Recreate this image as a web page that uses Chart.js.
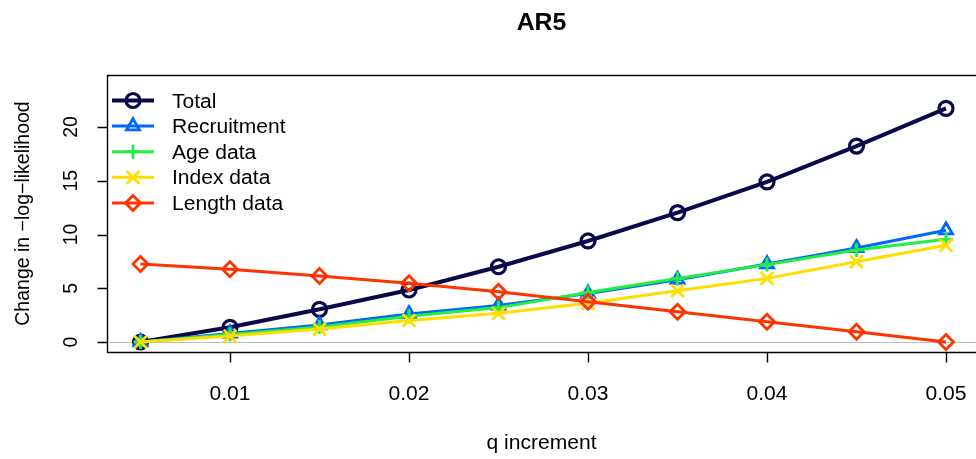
<!DOCTYPE html>
<html><head><meta charset="utf-8">
<script src="https://cdn.jsdelivr.net/npm/chart.js@4/dist/chart.umd.min.js"></script>
<style>html,body{margin:0;padding:0;background:#fff;overflow:hidden}canvas{display:block}</style>
</head><body>
<canvas id="c" width="976" height="459"></canvas>
<script>
// ---- data ----
const qIncrement  = [0.005, 0.01, 0.015, 0.02, 0.025, 0.03, 0.035, 0.04, 0.045, 0.05];
const total       = [0, 1.37, 3.04, 4.84, 7.0, 9.4, 12.03, 14.9, 18.23, 21.74];
const recruitment = [0, 0.8, 1.58, 2.6, 3.4, 4.5, 5.8, 7.25, 8.75, 10.4];
const ageData     = [0, 0.7, 1.4, 2.4, 3.2, 4.6, 5.9, 7.2, 8.55, 9.55];
const indexData   = [0, 0.55, 1.2, 2.0, 2.67, 3.6, 4.77, 5.92, 7.47, 9.0];
const lengthData  = [7.26, 6.76, 6.14, 5.46, 4.68, 3.75, 2.82, 1.89, 0.96, 0];

const seriesNames  = ["Total", "Recruitment", "Age data", "Index data", "Length data"];
const seriesValues = [total, recruitment, ageData, indexData, lengthData];
const seriesColors = ["#08084A", "#0066FF", "#22EE44", "#FFDD00", "#FF3300"];
const seriesMarks  = ["circle", "triangle", "cross", "crossRot", "rectRot"];

const xTicks      = [0.01, 0.02, 0.03, 0.04, 0.05];
const xTickLabels = ["0.01", "0.02", "0.03", "0.04", "0.05"];
const yTicks      = [0, 5, 10, 15, 20];
const yTickLabels = ["0", "5", "10", "15", "20"];

const chartTitle = "AR5";
const xTitle = "q increment";
const yTitle = "Change in \u2212log\u2212likelihood";

// ---- styling ----
const FONT = "'Liberation Sans', Arial, Helvetica, sans-serif";
const SX = 1.08; // horizontal stretch of the reference text
const lineWidths  = [4, 3, 3, 3, 3];
const pointRadii  = [7, 7.5, 7, 9, 7.5];
const pointBorder = [3.2, 2.8, 2.8, 2.8, 2.8];

function drawText(ctx, s, x, y, font, align, rotate) {
  ctx.save();
  ctx.font = font;
  ctx.fillStyle = "#000";
  ctx.textAlign = align || "center";
  ctx.textBaseline = "alphabetic";
  ctx.translate(x, y);
  if (rotate) ctx.rotate(-Math.PI / 2);
  else ctx.scale(SX, 1);
  ctx.fillText(s, 0, 0);
  ctx.restore();
}

function drawMark(ctx, style, x, y, r, color, lw) {
  ctx.save();
  ctx.strokeStyle = color; ctx.lineWidth = lw;
  ctx.beginPath();
  if (style === "circle") { ctx.arc(x, y, r, 0, Math.PI * 2); }
  else if (style === "triangle") {
    for (let k = 0; k < 3; k++) {
      const a = k * 2 * Math.PI / 3;
      const px = x + Math.sin(a) * r, py = y - Math.cos(a) * r;
      if (k === 0) ctx.moveTo(px, py); else ctx.lineTo(px, py);
    }
    ctx.closePath();
  } else if (style === "cross") {
    ctx.moveTo(x - r, y); ctx.lineTo(x + r, y); ctx.moveTo(x, y - r); ctx.lineTo(x, y + r);
  } else if (style === "crossRot") {
    const d = r * Math.SQRT1_2;
    ctx.moveTo(x - d, y - d); ctx.lineTo(x + d, y + d); ctx.moveTo(x - d, y + d); ctx.lineTo(x + d, y - d);
  } else if (style === "rectRot") {
    ctx.moveTo(x, y - r); ctx.lineTo(x + r, y); ctx.lineTo(x, y + r); ctx.lineTo(x - r, y); ctx.closePath();
  }
  ctx.stroke();
  ctx.restore();
}

const frame = {
  id: "rframe",
  beforeDatasetsDraw(chart) {
    const { ctx, chartArea: a, scales } = chart;
    const y0 = Math.round(scales.y.getPixelForValue(0)) + 0.5;
    ctx.save();
    ctx.strokeStyle = "#BEBEBE"; ctx.lineWidth = 1.2;
    ctx.beginPath(); ctx.moveTo(a.left, y0); ctx.lineTo(a.right, y0); ctx.stroke();
    ctx.restore();
  },
  afterDraw(chart) {
    const { ctx, chartArea: a, scales } = chart;
    const L = Math.round(a.left) + 0.5, T = Math.round(a.top) + 0.5, B = Math.round(a.bottom) + 0.5;
    const R = a.right + 2;
    ctx.save();
    ctx.strokeStyle = "#000"; ctx.lineWidth = 1.4;
    ctx.beginPath();
    ctx.moveTo(R, T); ctx.lineTo(L, T); ctx.lineTo(L, B); ctx.lineTo(R, B);
    ctx.stroke();
    ctx.beginPath();
    xTicks.forEach(v => {
      const px = Math.round(scales.x.getPixelForValue(v)) + 0.5;
      ctx.moveTo(px, B); ctx.lineTo(px, B + 10);
    });
    yTicks.forEach(v => {
      const py = Math.round(scales.y.getPixelForValue(v)) + 0.5;
      ctx.moveTo(L, py); ctx.lineTo(L - 10, py);
    });
    ctx.stroke();
    ctx.restore();

    const f = "19.5px " + FONT;
    xTicks.forEach((v, i) => drawText(ctx, xTickLabels[i], scales.x.getPixelForValue(v), 399.5, f, "center"));
    yTicks.forEach((v, i) => drawText(ctx, yTickLabels[i], 76.5, scales.y.getPixelForValue(v), f, "center", true));
    const cx = (a.left + a.right) / 2;
    drawText(ctx, xTitle, cx, 448.5, f, "center");
    drawText(ctx, yTitle, 29, (a.top + a.bottom) / 2, f, "center", true);
    drawText(ctx, chartTitle, cx, 30, "bold 23px " + FONT, "center");

    // legend
    chart.data.datasets.forEach((ds, i) => {
      const y = 100.5 + i * 25.6;
      ctx.save();
      ctx.strokeStyle = ds.borderColor; ctx.lineWidth = ds.borderWidth;
      ctx.beginPath(); ctx.moveTo(112, y); ctx.lineTo(154, y); ctx.stroke();
      ctx.restore();
      drawMark(ctx, ds.pointStyle, 133, y, ds.pointRadius, ds.borderColor, ds.pointBorderWidth);
      drawText(ctx, ds.label, 172, y + 7, f, "left");
    });
  }
};

const datasets = seriesNames.map((name, i) => ({
  label: name,
  data: qIncrement.map((q, j) => ({ x: q, y: seriesValues[i][j] })),
  borderColor: seriesColors[i],
  backgroundColor: "rgba(0,0,0,0)",
  borderWidth: lineWidths[i],
  pointStyle: seriesMarks[i],
  pointRadius: pointRadii[i],
  pointBorderWidth: pointBorder[i],
  pointBorderColor: seriesColors[i],
  pointBackgroundColor: "rgba(0,0,0,0)",
  tension: 0,
  fill: false,
  order: seriesNames.length - i
}));

new Chart(document.getElementById("c"), {
  type: "line",
  data: { datasets },
  options: {
    responsive: false,
    animation: false,
    devicePixelRatio: 1,
    layout: { autoPadding: false, padding: { left: 107, top: 75, right: 0, bottom: 107 } },
    plugins: { legend: { display: false }, tooltip: { enabled: false }, title: { display: false } },
    scales: {
      x: { type: "linear", display: false, min: 0.003128, max: 0.051675, bounds: "data" },
      y: { type: "linear", display: false, min: -0.93, max: 24.84, bounds: "data" }
    }
  },
  plugins: [frame]
});
</script>
</body></html>
